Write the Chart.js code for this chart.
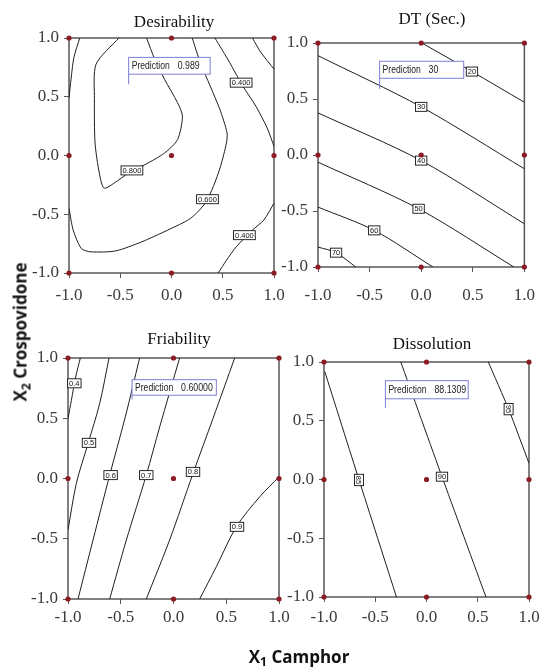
<!DOCTYPE html>
<html><head><meta charset="utf-8">
<script src="https://cdn.jsdelivr.net/npm/chart.js@4/dist/chart.umd.min.js"></script>
<style>
html,body{margin:0;padding:0;background:#fff;width:548px;height:671px;overflow:hidden;position:relative;}
canvas{position:absolute;left:0;top:0;}
.lab{position:absolute;font-family:"Open Sans",sans-serif;font-weight:bold;font-size:17px;white-space:nowrap;color:#111;}
#ylab{left:20px;top:332px;transform:translate(-50%,-50%) rotate(-90deg);}
#xlab{left:299px;top:656px;transform:translate(-50%,-50%);}
sub{font-size:0.72em;vertical-align:-0.3em;line-height:0;}
</style></head><body>
<canvas id="c1" width="548" height="671"></canvas>
<canvas id="c2" width="548" height="671"></canvas>
<canvas id="c3" width="548" height="671"></canvas>
<canvas id="c4" width="548" height="671"></canvas>
<div id="ylab" class="lab">X<sub>2</sub> Crospovidone</div>
<div id="xlab" class="lab">X<sub>1</sub> Camphor</div>
<script>
// ---------- data ----------
const tickValues = [-1, -0.5, 0, 0.5, 1];
const tickLabels = ['-1.0', '-0.5', '0.0', '0.5', '1.0'];
const designX = [-1, 0, 1, -1, 0, 1, -1, 0, 1];
const designY = [1, 1, 1, 0, 0, 0, -1, -1, -1];
const titles = ['Desirability', 'DT (Sec.)', 'Friability', 'Dissolution'];
const predictionValues = ['0.989', '30', '0.60000', '88.1309'];

// Desirability contours
const desLabels = ['', '0.800', '0.600', '0.400', '', '0.400'];
const desX = [
  [-0.895, -0.952, -0.984, -1.0],
  [-0.514, -0.736, -0.752, -0.746, -0.704, -0.657, -0.514, -0.386, -0.259, -0.068, 0.059, 0.107, 0.059, -0.068, -0.164, -0.243],
  [-1.0, -0.959, -0.879, -0.784, -0.545, -0.291, -0.037, 0.186, 0.329, 0.408, 0.478, 0.536, 0.542, 0.472, 0.377, 0.281, 0.202],
  [0.424, 0.567, 0.695, 0.822, 0.933, 1.0],
  [0.790, 0.870, 1.0],
  [1.0, 0.901, 0.790, 0.631, 0.536, 0.456]
];
const desY = [
  [1.0, 0.835, 0.62, 0.49],
  [1.0, 0.777, 0.478, 0.107, -0.150, -0.278, -0.207, -0.127, -0.078, 0.021, 0.135, 0.335, 0.449, 0.649, 0.820, 1.0],
  [-0.449, -0.635, -0.792, -0.820, -0.812, -0.735, -0.635, -0.535, -0.406, -0.264, -0.093, 0.107, 0.193, 0.392, 0.592, 0.792, 1.0],
  [1.0, 0.792, 0.592, 0.421, 0.235, 0.078],
  [1.0, 0.88, 0.735],
  [-0.406, -0.549, -0.635, -0.778, -0.892, -1.0]
];
const desLabelX = [0, -0.386, 0.351, 0.679, 0, 0.711];
const desLabelY = [0, -0.127, -0.372, 0.620, 0, -0.678];

// DT contours
const dtLabels = ['20', '30', '40', '50', '60', '70'];
const dtX = [
  [0.006, 0.492, 1.0],
  [-1.0, 0.0, 1.0],
  [-1.0, 0.0, 1.0],
  [-1.0, -0.025, 0.898],
  [-1.0, -0.455, 0.114],
  [-1.0, -0.825, -0.634]
];
const dtY = [
  [1.0, 0.745, 0.471],
  [0.887, 0.43, -0.123],
  [0.376, -0.05, -0.614],
  [-0.064, -0.48, -1.0],
  [-0.465, -0.673, -1.0],
  [-0.822, -0.872, -1.0]
];
const dtLabelX = [0.492, 0.0, 0.0, -0.025, -0.455, -0.825];
const dtLabelY = [0.745, 0.43, -0.05, -0.48, -0.673, -0.872];

// Friability contours
const friLabels = ['0.4', '0.5', '0.6', '0.7', '0.8', '0.9'];
const friX = [
  [-1.0, -0.968, -0.927, -0.883],
  [-1.0, -0.921, -0.810, -0.700, -0.611],
  [-0.905, -0.763, -0.605, -0.457, -0.321],
  [-0.605, -0.447, -0.258, -0.131, 0.058],
  [-0.258, -0.037, 0.185, 0.374, 0.580],
  [0.248, 0.406, 0.596, 0.817, 1.0]
];
const friY = [
  [0.497, 0.649, 0.843, 1.0],
  [-0.428, -0.041, 0.290, 0.621, 1.0],
  [-1.0, -0.511, 0.028, 0.511, 1.0],
  [-1.0, -0.511, 0.028, 0.428, 1.0],
  [-1.0, -0.511, 0.042, 0.497, 1.0],
  [-1.0, -0.732, -0.400, -0.152, 0.014]
];
const friLabelX = [-0.94, -0.801, -0.596, -0.258, 0.185, 0.602];
const friLabelY = [0.79, 0.296, 0.028, 0.028, 0.055, -0.401];

// Dissolution contours
const disLabels = ['85', '90', '95'];
const disX = [
  [-0.993, -0.658, -0.293],
  [-0.251, 0.151, 0.580],
  [0.603, 0.801, 1.0]
];
const disY = [
  [0.920, -0.004, -1.0],
  [1.0, 0.024, -1.0],
  [1.0, 0.599, 0.138]
];
const disLabelX = [-0.658, 0.151, 0.801];
const disLabelY = [-0.004, 0.024, 0.599];
const disLabelRot = [true, false, true];

// Prediction flag boxes (data coordinates: left, right, top, bottom, stub end)
const predLeft = [-0.418, -0.403, -0.393, -0.401];
const predRight = [0.377, 0.412, 0.406, 0.407];
const predTop = [0.835, 0.837, 0.820, 0.841];
const predBottom = [0.692, 0.685, 0.691, 0.687];
const predStub = [0.606, 0.590, 0.655, 0.607];

// ---------- layout (pixels) ----------
const W = 548, H = 671, YW = 50, XH = 40;
const panels = [
  {id: 'c1', L: 69, T: 38, R: 274, B: 273, tx: 174, ty: 23, xPad: 7},
  {id: 'c2', L: 318, T: 43, R: 534, B: 267, tx: 432, ty: 20, xPad: 13},
  {id: 'c3', L: 68, T: 358, R: 279, B: 599, tx: 179, ty: 340, xPad: 3},
  {id: 'c4', L: 324, T: 362, R: 529, B: 597, tx: 432, ty: 345, xPad: 5}
];
const contourSets = [
  {xs: desX, ys: desY, labels: desLabels, lx: desLabelX, ly: desLabelY, rot: null, tension: 0.25},
  {xs: dtX, ys: dtY, labels: dtLabels, lx: dtLabelX, ly: dtLabelY, rot: null, tension: 0.3},
  {xs: friX, ys: friY, labels: friLabels, lx: friLabelX, ly: friLabelY, rot: null, tension: 0.3},
  {xs: disX, ys: disY, labels: disLabels, lx: disLabelX, ly: disLabelY, rot: disLabelRot, tension: 0.2}
];

const frameColor = '#575757';
const pointColor = '#8b1c24';
const lineColor = '#1e1e1e';
const predColor = '#7d7ed6';
Chart.defaults.font.family = 'Liberation Serif';

function makePanel(k) {
  const p = panels[k], cs = contourSets[k];
  const datasets = [{
    data: designX.map((x, i) => ({x: x, y: designY[i]})),
    showLine: false, pointRadius: 2.6, pointHoverRadius: 2.6,
    pointBackgroundColor: pointColor, pointBorderWidth: 0, clip: false
  }];
  cs.xs.forEach((xs, i) => {
    datasets.push({
      data: xs.map((x, j) => ({x: x, y: cs.ys[i][j]})),
      showLine: true, pointRadius: 0, borderColor: lineColor, borderWidth: 1,
      tension: cs.tension, fill: false
    });
  });
  const plugin = {
    id: 'panelDeco' + k,
    beforeDatasetsDraw(chart) {
      const {ctx, chartArea: a} = chart;
      ctx.save();
      ctx.strokeStyle = frameColor; ctx.lineWidth = 1.5;
      ctx.strokeRect(a.left, a.top, a.right - a.left, a.bottom - a.top);
      ctx.fillStyle = '#111';
      ctx.font = '17px "Liberation Serif", serif';
      ctx.textAlign = 'center'; ctx.textBaseline = 'middle';
      ctx.fillText(titles[k], p.tx, p.ty);
      ctx.restore();
    },
    afterDatasetDraw(chart, args) {
      if (args.index !== 1) return;
      const {ctx} = chart;
      const xs = chart.scales.x, ys = chart.scales.y;
      ctx.save();
      // contour labels
      ctx.font = '7.5px "Liberation Sans", sans-serif';
      ctx.textAlign = 'center'; ctx.textBaseline = 'middle';
      cs.labels.forEach((t, i) => {
        if (!t) return;
        const px = xs.getPixelForValue(cs.lx[i]), py = ys.getPixelForValue(cs.ly[i]);
        const w = ctx.measureText(t).width + 3, h = 9;
        ctx.save();
        ctx.translate(px, py);
        if (cs.rot && cs.rot[i]) ctx.rotate(Math.PI / 2);
        ctx.fillStyle = '#fff';
        ctx.fillRect(-w / 2, -h / 2, w, h);
        ctx.strokeStyle = '#111'; ctx.lineWidth = 0.9;
        ctx.strokeRect(-w / 2, -h / 2, w, h);
        ctx.fillStyle = '#111';
        ctx.fillText(t, 0, 0.5);
        ctx.restore();
      });
      // prediction flag
      const l = xs.getPixelForValue(predLeft[k]), r = xs.getPixelForValue(predRight[k]);
      const t = ys.getPixelForValue(predTop[k]), b = ys.getPixelForValue(predBottom[k]);
      const s = ys.getPixelForValue(predStub[k]);
      ctx.fillStyle = '#fff';
      ctx.fillRect(l, t, r - l, b - t);
      ctx.strokeStyle = predColor; ctx.lineWidth = 1;
      ctx.strokeRect(l, t, r - l, b - t);
      ctx.beginPath(); ctx.moveTo(l, b); ctx.lineTo(l, s); ctx.stroke();
      ctx.save();
      ctx.beginPath(); ctx.rect(l, t, r - l - 1, b - t); ctx.clip();
      ctx.fillStyle = '#222';
      ctx.font = '11px "Liberation Sans", sans-serif';
      ctx.textAlign = 'left'; ctx.textBaseline = 'middle';
      const my = (t + b) / 2 + 0.5;
      ctx.save(); ctx.translate(l + 3, my); ctx.scale(0.78, 1); ctx.fillText('Prediction', 0, 0); ctx.restore();
      ctx.save(); ctx.translate(l + 49, my); ctx.scale(0.8, 1); ctx.fillText(predictionValues[k], 0, 0); ctx.restore();
      ctx.restore();
      ctx.restore();
    }
  };
  const tickFont = {family: 'Liberation Serif', size: 17};
  return new Chart(document.getElementById(p.id), {
    type: 'scatter',
    data: {datasets: datasets},
    options: {
      responsive: false, animation: false, events: [],
      layout: {padding: {left: p.L - YW, right: W - p.R, top: p.T, bottom: H - p.B - XH}},
      plugins: {legend: {display: false}, tooltip: {enabled: false}, title: {display: false}},
      scales: {
        x: {
          type: 'linear', min: -1, max: 1,
          afterBuildTicks: s => { s.ticks = tickValues.map(v => ({value: v})); },
          afterFit: s => { s.height = XH; },
          ticks: {callback: (v, i) => tickLabels[i], font: tickFont, color: '#3a3a3a', padding: p.xPad, maxRotation: 0, autoSkip: false},
          grid: {drawOnChartArea: false, drawTicks: true, tickLength: 5, color: frameColor, lineWidth: 1},
          border: {display: false}
        },
        y: {
          type: 'linear', min: -1, max: 1,
          afterBuildTicks: s => { s.ticks = tickValues.map(v => ({value: v})); },
          afterFit: s => { s.width = YW; },
          ticks: {callback: (v, i) => tickLabels[i], font: tickFont, color: '#3a3a3a', padding: 5, autoSkip: false},
          grid: {drawOnChartArea: false, drawTicks: true, tickLength: 5, color: frameColor, lineWidth: 1},
          border: {display: false}
        }
      }
    },
    plugins: [plugin]
  });
}
for (let k = 0; k < 4; k++) makePanel(k);
</script>
</body></html>
